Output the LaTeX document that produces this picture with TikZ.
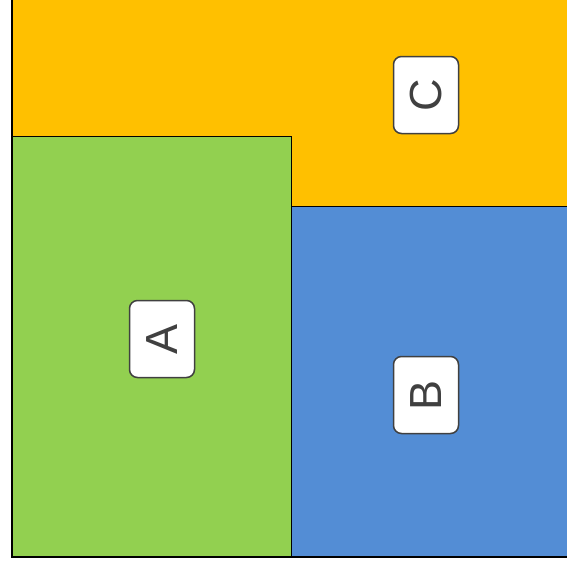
\documentclass[tikz,border=0pt]{standalone}
\usepackage{fontspec}
\setsansfont{Liberation Sans}
\usepackage{xcolor}
\usetikzlibrary{positioning}
\definecolor{orangex}{HTML}{FFC000}
\definecolor{greenx}{HTML}{92D050}
\definecolor{bluex}{HTML}{538DD5}
\definecolor{inkx}{HTML}{404040}
\tikzset{
  area/.style={draw=black,line width=0.8pt},
  tag/.style={draw=inkx,line width=1.5pt,rounded corners=8pt,fill=white,rotate=90,
    minimum width=77pt,minimum height=65pt,inner sep=0pt,
    font=\sffamily\fontsize{45}{54}\selectfont,text=inkx},
  ax/.style={line width=2pt,black}
}
\begin{document}
\begin{tikzpicture}[x=1pt,y=-1pt]
\useasboundingbox (0,0) rectangle (567,570);
\fill[orangex] (12,0) rectangle (567,206);
\filldraw[area,fill=greenx] (12,136) rectangle (291,557);
\filldraw[area,fill=bluex] (291,206) rectangle (567,557);
\draw[ax] (11.5,0)--(11.5,557)--(567,557);
\node[tag] (a) at (162,339) {A};
\node[tag] (b) at (426,395) {B};
\node[tag] (c) at (426,95) {C};
\end{tikzpicture}
\end{document}
